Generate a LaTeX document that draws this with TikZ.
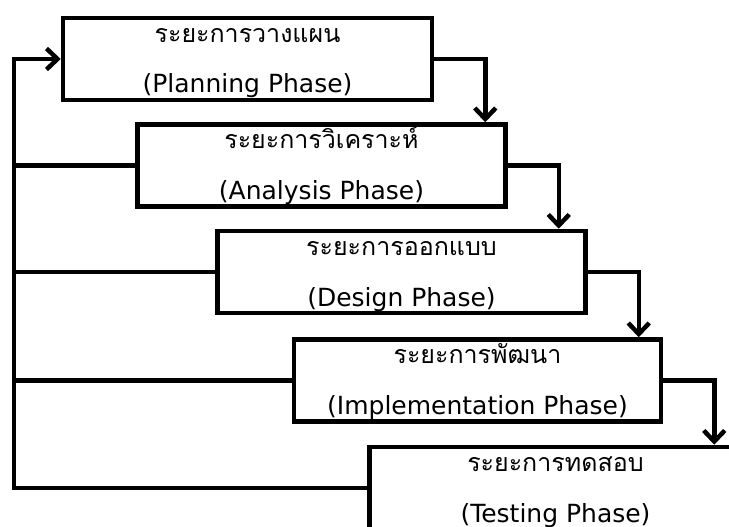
\documentclass[tikz,border=0pt]{standalone}
\usepackage{fontspec}
\setmainfont{DejaVu Sans}
\newfontfamily\thaifont[Script=Thai]{Loma}
\usetikzlibrary{arrows.meta,positioning}
% Thai title over English title, fixed baselines
\newcommand\phasetext[2]{\rule{0pt}{22pt}\smash{\thaifont #1}\\\smash{#2}\rule[-5pt]{0pt}{5pt}}

\begin{document}
\begin{tikzpicture}[
  x=1pt,y=-1pt,
  phase/.style={draw,line width=4.5pt,minimum height=82pt,inner sep=0pt,
    align=center,font=\fontsize{25}{51}\selectfont},
  flow/.style={line width=4.5pt,-{Straight Barb[length=11pt,width=21pt]}},
  link/.style={line width=4.5pt}
]
  \useasboundingbox (0,0) rectangle (729,527);
  \node[phase,minimum width=369pt] (plan) at (247.5,59)
    {\phasetext{ระยะการวางแผน}{(Planning Phase)}};
  \node[phase,minimum width=368pt,below=20pt of plan,xshift=74pt] (anal)
    {\phasetext{ระยะการวิเคราะห์}{(Analysis Phase)}};
  \node[phase,minimum width=368pt,below=20pt of anal,xshift=80pt] (design)
    {\phasetext{ระยะการออกแบบ}{(Design Phase)}};
  \node[phase,minimum width=367pt,below=22pt of design,xshift=76pt] (impl)
    {\phasetext{ระยะการพัฒนา}{(Implementation Phase)}};
  \node[phase,minimum width=372pt,below=21pt of impl,xshift=78pt] (test)
    {\phasetext{ระยะการทดสอบ}{(Testing Phase)}};

  % forward steps
  \draw[flow] (plan.east) -| ([xshift=51pt]plan.east |- anal.north);
  \draw[flow] (anal.east) -| ([xshift=51pt]anal.east |- design.north);
  \draw[flow] (design.east) -| ([xshift=51pt]design.east |- impl.north);
  \draw[flow] (impl.east) -| ([xshift=51pt]impl.east |- test.north);

  % feedback back to planning
  \coordinate (spine) at (14,0);
  \draw[flow] (test.west) -| (plan.west -| spine) -- (plan.west);
  \foreach \n in {anal,design,impl}
    \draw[link] (\n.west) -- (\n.west -| spine);
\end{tikzpicture}
\end{document}
